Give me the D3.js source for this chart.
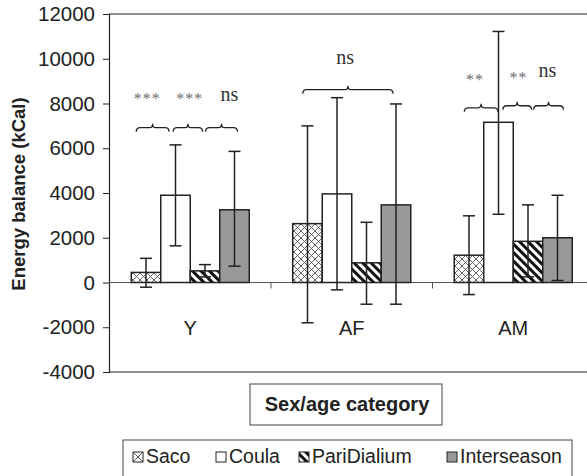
<!DOCTYPE html>
<html>
<head>
<meta charset="utf-8">
<script src="https://cdn.jsdelivr.net/npm/d3@7/dist/d3.min.js"></script>
<style>
  body { margin: 0; background: #fff; }
  text { font-family: "Liberation Sans", Arial, sans-serif; }
</style>
</head>
<body>
<div id="chart"></div>
<script>
// data
let categories = ["Y", "AF", "AM"];
let seasons = ["Saco", "Coula", "PariDialium", "Interseason"];
let sacoVals = [450, 2630, 1220];
let coulaVals = [3900, 3960, 7160];
let pariVals = [520, 880, 1840];
let interVals = [3250, 3470, 2000];
let sacoErr = [[-210, 1080], [-1800, 7000], [-540, 2980]];
let coulaErr = [[1640, 6150], [-330, 8260], [3050, 11220]];
let pariErr = [[250, 800], [-970, 2690], [250, 3470]];
let interErr = [[730, 5860], [-970, 7980], [90, 3900]];
let yTicks = [-4000, -2000, 0, 2000, 4000, 6000, 8000, 10000, 12000];

// significance brackets (from/to in bar widths inside a group)
let bracketCat = ["Y", "Y", "Y", "AF", "AM", "AM", "AM"];
let bracketFrom = [0.17, 1.42, 2.52, 0.34, 0.34, 1.65, 2.69];
let bracketTo = [1.28, 2.42, 3.6, 3.4, 1.48, 2.62, 3.7];
let bracketBase = [6740, 6740, 6740, 8440, 7630, 7720, 7720];
let sigCat = ["Y", "Y", "Y", "AF", "AM", "AM", "AM"];
let sigText = ["***", "***", "ns", "ns", "**", "**", "ns"];
let sigPos = [0.54, 1.98, 3.33, 1.78, 0.7, 2.18, 3.16];
let sigVal = [8390, 8390, 8390, 10040, 9240, 9330, 9460];

let width = 587, height = 476;
let svg = d3.select("#chart").append("svg")
    .attr("width", width)
    .attr("height", height);

svg.append("rect").attr("width", width).attr("height", height).attr("fill", "#fff");

// patterns
let defs = svg.append("defs");
let cross = defs.append("pattern")
    .attr("id", "cross")
    .attr("patternUnits", "userSpaceOnUse")
    .attr("width", 7).attr("height", 7);
cross.append("rect").attr("width", 7).attr("height", 7).attr("fill", "#fff");
cross.append("path")
    .attr("d", "M0,0L7,7M7,0L0,7")
    .attr("stroke", "#555").attr("stroke-width", 0.9);

let stripe = defs.append("pattern")
    .attr("id", "stripe")
    .attr("patternUnits", "userSpaceOnUse")
    .attr("width", 6).attr("height", 6)
    .attr("patternTransform", "rotate(45)");
stripe.append("rect").attr("width", 6).attr("height", 6).attr("fill", "#fff");
stripe.append("rect").attr("width", 6).attr("height", 3).attr("fill", "#111");

let fills = ["url(#cross)", "#fff", "url(#stripe)", "#999"];

let x0 = d3.scaleBand().domain(categories).range([109.5, 594]);
let groupW = 118;
let barW = groupW / seasons.length;
let x1 = d3.scaleBand().domain(seasons).range([0, groupW]);
let groupStart = c => x0(c) + (x0.bandwidth() - groupW) / 2;

let y = d3.scaleLinear().domain([-4000, 12000]).range([372, 14]);

// frame
svg.append("line").attr("x1", 109).attr("x2", 594).attr("y1", y(12000)).attr("y2", y(12000))
    .attr("stroke", "#222").attr("stroke-width", 1.2);
svg.append("line").attr("x1", 109).attr("x2", 594).attr("y1", y(-4000)).attr("y2", y(-4000))
    .attr("stroke", "#222").attr("stroke-width", 1.2);

// y axis
let yAxis = svg.append("g")
    .attr("transform", "translate(109,0)")
    .call(d3.axisLeft(y).tickValues(yTicks).tickSize(6).tickPadding(8).tickFormat(d => String(d)));
yAxis.select(".domain").attr("stroke", "#222").attr("stroke-width", 1.2);
yAxis.selectAll(".tick line").attr("stroke", "#222");
yAxis.selectAll("text").style("font-size", "20.5px").style("fill", "#222")
    .style("font-family", "Liberation Sans, Arial, sans-serif");

// zero line + category ticks
svg.append("line").attr("x1", 109).attr("x2", 594).attr("y1", y(0)).attr("y2", y(0))
    .attr("stroke", "#555").attr("stroke-width", 1);
categories.slice(1).forEach(c =>
    svg.append("line")
        .attr("x1", x0(c)).attr("x2", x0(c))
        .attr("y1", y(0)).attr("y2", y(0) + 6)
        .attr("stroke", "#555")
);

// category labels
svg.selectAll(".cat").data(categories).enter().append("text")
    .attr("x", d => x0(d) + x0.bandwidth() / 2)
    .attr("y", 335)
    .attr("text-anchor", "middle")
    .style("font-size", "20px")
    .style("fill", "#222")
    .text(d => d);

// bars
let vals = [sacoVals, coulaVals, pariVals, interVals];
let errs = [sacoErr, coulaErr, pariErr, interErr];

seasons.forEach(function (s, si) {
    categories.forEach(function (c, ci) {
        let v = vals[si][ci];
        let bx = groupStart(c) + x1(s);
        svg.append("rect")
            .attr("x", bx)
            .attr("y", y(Math.max(0, v)))
            .attr("width", x1.bandwidth())
            .attr("height", Math.abs(y(v) - y(0)))
            .attr("fill", fills[si])
            .attr("stroke", "#222")
            .attr("stroke-width", 1.5);
    });
});

// error bars on top
seasons.forEach(function (s, si) {
    categories.forEach(function (c, ci) {
        let e = errs[si][ci];
        let cx = groupStart(c) + x1(s) + x1.bandwidth() / 2;
        let g = svg.append("g").attr("stroke", "#222").attr("stroke-width", 1.5);
        g.append("line").attr("x1", cx).attr("x2", cx).attr("y1", y(e[0])).attr("y2", y(e[1]));
        e.forEach(v =>
            g.append("line").attr("x1", cx - 6).attr("x2", cx + 6).attr("y1", y(v)).attr("y2", y(v))
        );
    });
});

// curly brackets
function bracePath(xa, xb, yb) {
    let h = 8, m = (xa + xb) / 2;
    let yl = yb - h / 2, yp = yb - h;
    return "M" + xa + "," + yb +
        "Q" + xa + "," + yl + " " + (xa + 4) + "," + yl +
        "L" + (m - 3) + "," + yl +
        "Q" + m + "," + yl + " " + m + "," + yp +
        "Q" + m + "," + yl + " " + (m + 3) + "," + yl +
        "L" + (xb - 4) + "," + yl +
        "Q" + xb + "," + yl + " " + xb + "," + yb;
}
bracketCat.forEach(function (c, i) {
    let gs = groupStart(c);
    svg.append("path")
        .attr("d", bracePath(gs + bracketFrom[i] * barW, gs + bracketTo[i] * barW, y(bracketBase[i])))
        .attr("fill", "none")
        .attr("stroke", "#222")
        .attr("stroke-width", 1.3);
});

// significance labels
sigCat.forEach(function (c, i) {
    let star = sigText[i] !== "ns";
    svg.append("text")
        .attr("x", groupStart(c) + sigPos[i] * barW)
        .attr("y", y(sigVal[i]) + (star ? 9 : 6))
        .attr("text-anchor", "middle")
        .style("font-family", "Liberation Serif, Times New Roman, serif")
        .style("font-size", star ? "16px" : "20px")
        .style("letter-spacing", star ? "1px" : "0px")
        .style("fill", star ? "#707070" : "#333")
        .text(sigText[i]);
});

// y title
svg.append("text")
    .attr("transform", "translate(25,194) rotate(-90)")
    .attr("text-anchor", "middle")
    .style("font-size", "18.5px")
    .style("font-weight", "bold")
    .style("fill", "#222")
    .text("Energy balance (kCal)");

// x title box
svg.append("rect").attr("x", 250).attr("y", 384).attr("width", 192).attr("height", 41)
    .attr("fill", "#fff").attr("stroke", "#444").attr("stroke-width", 1);
svg.append("text").attr("x", 347).attr("y", 411)
    .attr("text-anchor", "middle")
    .style("font-size", "20px").style("font-weight", "bold")
    .style("fill", "#222")
    .text("Sex/age category");

// legend
svg.append("rect").attr("x", 123).attr("y", 440).attr("width", 449).attr("height", 40)
    .attr("fill", "#fff").attr("stroke", "#444").attr("stroke-width", 1);
let legendX = [133, 216, 299, 447];
seasons.forEach(function (s, i) {
    let lx = legendX[i];
    svg.append("rect")
        .attr("x", lx).attr("y", 452)
        .attr("width", 10).attr("height", 10)
        .attr("fill", i == 0 ? "#fff" : fills[i])
        .attr("stroke", "#222").attr("stroke-width", 1);
    // saco key is a single cross in the box
    if (i == 0) {
        svg.append("path")
            .attr("d", "M" + lx + ",452L" + (lx + 10) + ",462M" + (lx + 10) + ",452L" + lx + ",462")
            .attr("stroke", "#444").attr("stroke-width", 0.9);
    }
    svg.append("text")
        .attr("x", lx + 13).attr("y", 463)
        .style("font-size", "19.5px")
        .style("fill", "#222")
        .text(s);
});
</script>
</body>
</html>
